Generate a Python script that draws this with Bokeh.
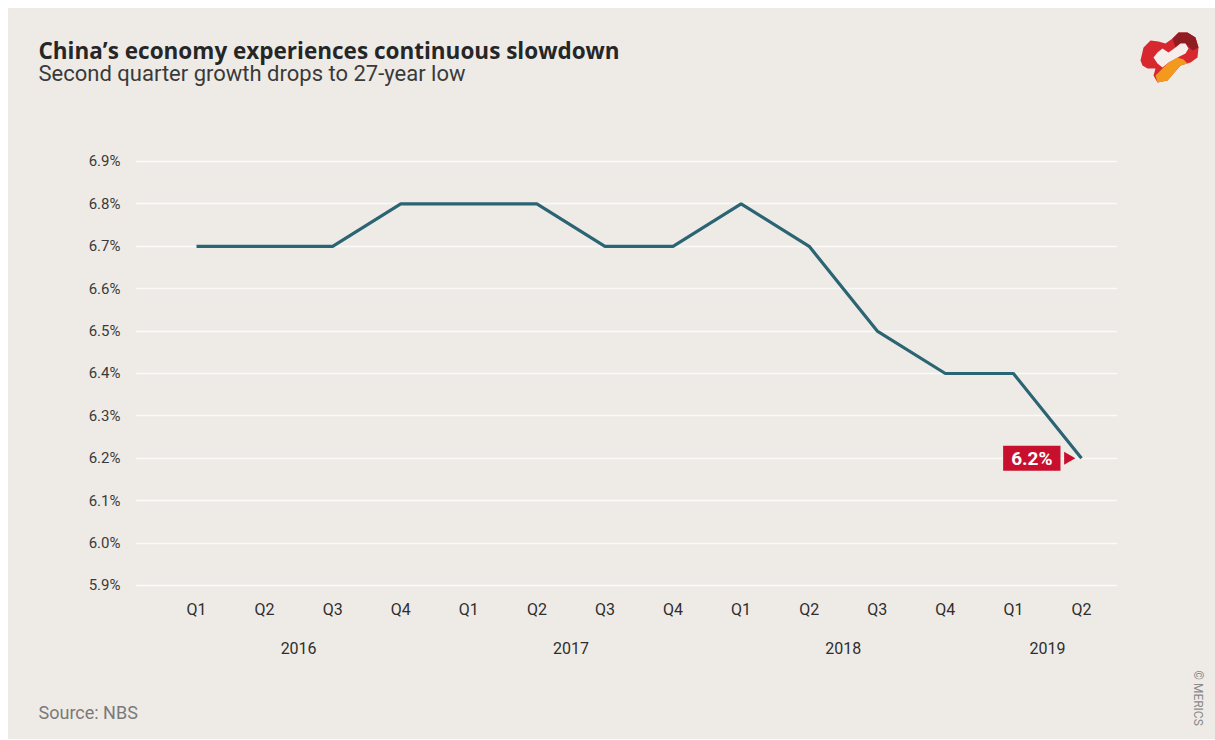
import math
from bokeh.plotting import figure
from bokeh.layouts import column
from bokeh.models import (Range1d, FixedTicker, LinearAxis, Label, PrintfTickFormatter,
                          Grid, Title)
from bokeh.core.properties import value
from bokeh.embed import file_html
from bokeh.resources import INLINE

# ---- data ----
quarters = ["Q1", "Q2", "Q3", "Q4", "Q1", "Q2", "Q3", "Q4", "Q1", "Q2", "Q3", "Q4", "Q1", "Q2"]
quarter_years = ["2016"] * 4 + ["2017"] * 4 + ["2018"] * 4 + ["2019"] * 2
growth = [6.7, 6.7, 6.7, 6.8, 6.8, 6.8, 6.7, 6.7, 6.8, 6.7, 6.5, 6.4, 6.4, 6.2]
years = ["2016", "2017", "2018", "2019"]
y_ticks = [5.9, 6.0, 6.1, 6.2, 6.3, 6.4, 6.5, 6.6, 6.7, 6.8, 6.9]
last_label = "6.2%"

title_text = "China’s economy experiences continuous slowdown"
subtitle_text = "Second quarter growth drops to 27-year low"
source_text = "Source: NBS"
credit_text = "© MERICS"

BG = "#EEEBE7"
LINE = "#2B6472"
RED = "#C8102E"
FONT = "Roboto"

xs = list(range(len(growth)))
year_pos = []
for yname in years:
    idx = [i for i, yy in enumerate(quarter_years) if yy == yname]
    year_pos.append(sum(idx) / len(idx))

# ---------------- header (title, subtitle, logo) ----------------
head = figure(width=1207, height=132, x_range=Range1d(8, 1215), y_range=Range1d(140, 8),
              output_backend="svg", toolbar_location=None, frame_align=False,
              background_fill_color=None, border_fill_color=BG, min_border=0,
              outline_line_color=None, x_axis_type=None, y_axis_type=None)
head.title.visible = False
head.xgrid.visible = False
head.ygrid.visible = False
head.text(x=[38], y=[49.5], text=[title_text], text_font=value("Open Sans"),
          text_font_style="bold", text_font_size="22.5px", text_color="#262626",
          text_baseline="middle")
head.text(x=[38], y=[72.5], text=[subtitle_text], text_font=value(FONT),
          text_font_size="22px", text_color="#3a3a3a", text_baseline="middle")

# logo (decorative shape)
logo_outer = [(1140, 60), (1143, 47), (1150, 40), (1158, 41), (1165, 43), (1172, 38),
              (1178, 32), (1187, 32), (1195, 37), (1198, 47), (1197, 57), (1190, 62),
              (1180, 65), (1173, 73), (1167, 80), (1157, 82), (1153, 75), (1155, 68),
              (1147, 68), (1142, 65)]
logo_dark = [(1172, 38), (1178, 32), (1187, 32), (1195, 37), (1198, 47), (1192, 50),
             (1185, 43), (1180, 43), (1175, 47)]
logo_orange = [(1155, 75), (1157, 82), (1167, 80), (1173, 73), (1180, 65), (1187, 63),
               (1183, 59), (1177, 57), (1168, 62), (1162, 68)]
logo_hole = [(1153, 57), (1157, 52), (1162, 48), (1168, 52), (1175, 47), (1180, 43),
             (1185, 43), (1188, 48), (1185, 53), (1177, 57), (1168, 62), (1162, 67),
             (1157, 63)]
for pts, col in ((logo_outer, "#D7282F"), (logo_dark, "#8E1C22"),
                 (logo_orange, "#F39A1E"), (logo_hole, "#F6EEEA")):
    head.patch([a for a, _ in pts], [b for _, b in pts], fill_color=col, line_color=None)

# ---------------- main chart ----------------
p = figure(width=1207, height=599,
           x_range=Range1d(-0.896, 13.529), y_range=Range1d(5.8882, 6.9495),
           output_backend="svg", toolbar_location=None, frame_align=False,
           background_fill_color=None, border_fill_color=BG,
           min_border_left=127, min_border_right=98,
           min_border_top=0, min_border_bottom=149,
           outline_line_color=None, x_axis_type=None, y_axis_type=None)
p.title.visible = False

yax = LinearAxis(ticker=FixedTicker(ticks=y_ticks),
                 formatter=PrintfTickFormatter(format="%.1f%%"))
yax.axis_line_color = None
yax.major_tick_line_color = None
yax.minor_tick_line_color = None
yax.major_label_standoff = 9
yax.major_label_text_font = FONT
yax.major_label_text_font_size = "15px"
yax.major_label_text_color = "#3a3a3a"
p.add_layout(yax, "left")
p.add_layout(Grid(dimension=1, ticker=yax.ticker, grid_line_color="#FBFAF8",
                  grid_line_width=1.6))

qax = LinearAxis(ticker=FixedTicker(ticks=xs),
                 major_label_overrides={i: q for i, q in enumerate(quarters)})
yrax = LinearAxis(ticker=FixedTicker(ticks=year_pos),
                  major_label_overrides={pos: yy for pos, yy in zip(year_pos, years)})
for ax, st in ((qax, 3), (yrax, 14)):
    ax.axis_line_color = None
    ax.major_tick_line_color = None
    ax.minor_tick_line_color = None
    ax.major_label_standoff = st
    ax.major_label_text_font = FONT
    ax.major_label_text_font_size = "16px"
    ax.major_label_text_color = "#2e2e2e"
    p.add_layout(ax, "below")

p.line(xs, growth, line_color=LINE, line_width=3.2)

# end-point label
p.scatter([xs[-1] - 0.2], [growth[-1]], marker="triangle", size=13,
          angle=-math.pi / 2, fill_color=RED, line_color=None)
p.add_layout(Label(x=xs[-1], y=growth[-1], x_offset=-21, text=last_label,
                   text_align="right", text_baseline="middle",
                   text_font=FONT, text_font_style="bold", text_font_size="19px",
                   text_color="white", background_fill_color=RED, padding=(8, 1)))

# source (below) with an invisible spacer (text in background colour)
p.add_layout(Title(text=".", text_color=BG, text_font_size="10px", standoff=31), "below")
p.add_layout(Title(text=source_text, align="left", offset=-97, standoff=4,
                   text_font=FONT, text_font_style="normal", text_font_size="18px",
                   text_color="#7a7a7a"), "below")
# credit (right) with an invisible spacer
p.add_layout(Title(text=".", text_color=BG, text_font_size="10px", standoff=62), "right")
p.add_layout(Title(text=credit_text, align="left", offset=530, standoff=2,
                   text_font=FONT, text_font_style="normal", text_font_size="12px",
                   text_color="#8a8a8a"), "right")

layout = column(head, p, margin=(8, 0, 0, 8), spacing=0,
                styles={"background-color": BG})
open("out.html", "w").write(file_html(layout, INLINE))
